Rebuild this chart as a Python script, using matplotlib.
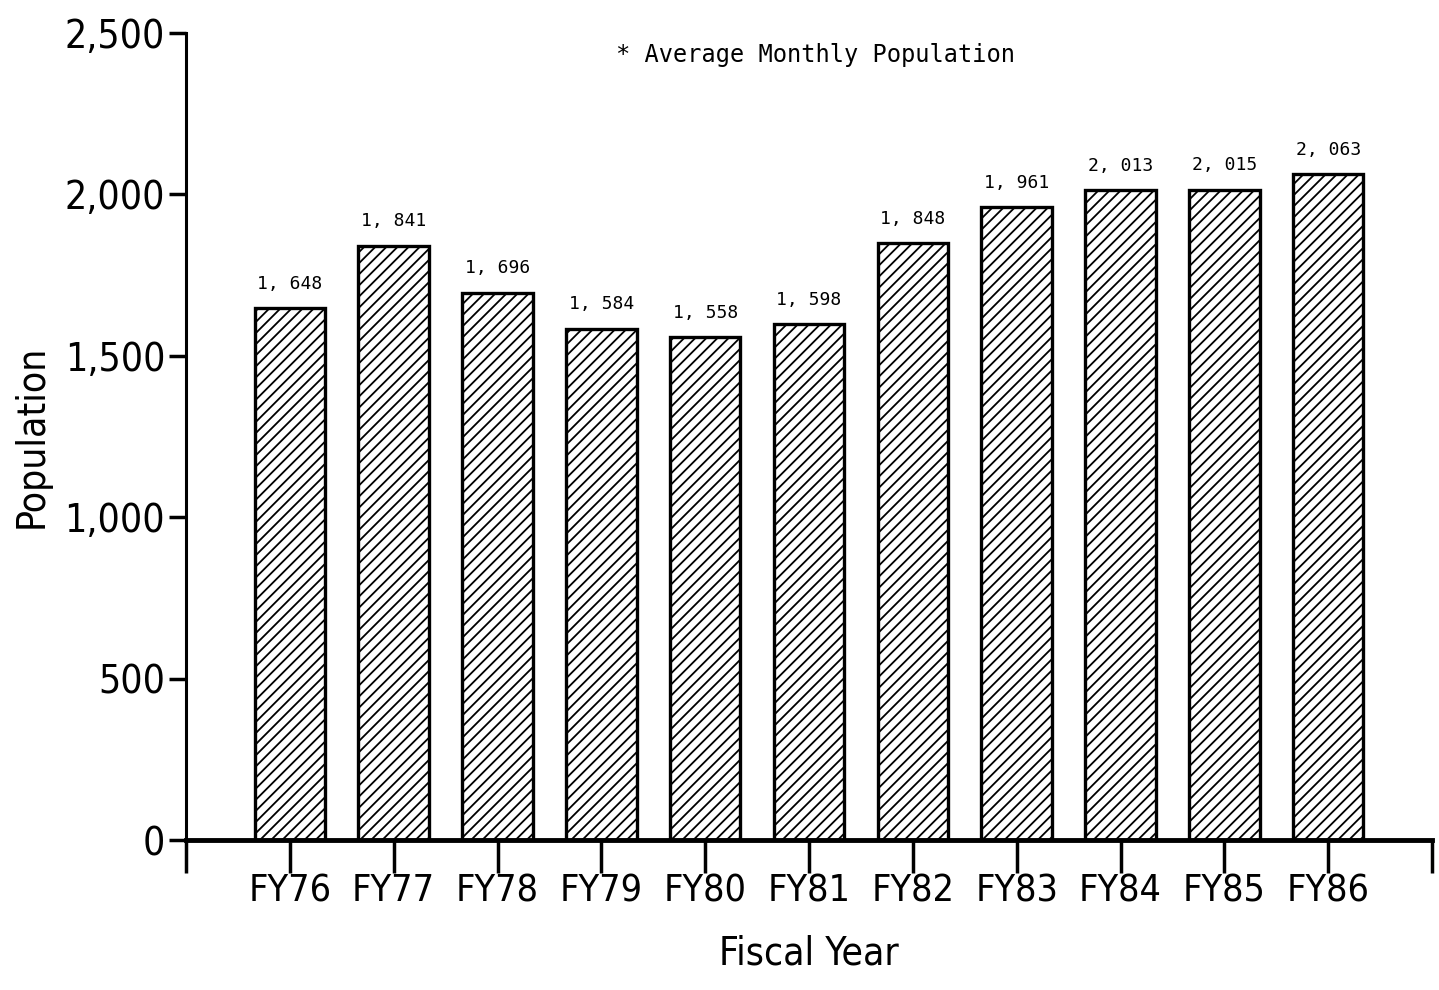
import matplotlib
matplotlib.use("Agg")
import matplotlib.pyplot as plt
from matplotlib import font_manager

years = ["FY76", "FY77", "FY78", "FY79", "FY80", "FY81", "FY82", "FY83", "FY84", "FY85", "FY86"]
population = [1648, 1841, 1696, 1584, 1558, 1598, 1848, 1961, 2013, 2015, 2063]
value_labels = ["1, 648", "1, 841", "1, 696", "1, 584", "1, 558", "1, 598",
                "1, 848", "1, 961", "2, 013", "2, 015", "2, 063"]
yticks = [0, 500, 1000, 1500, 2000, 2500]
ytick_labels = ["0", "500", "1,000", "1,500", "2,000", "2,500"]

stretches = {(f.name, f.stretch) for f in font_manager.fontManager.ttflist}
names = {n for n, s in stretches}
if any(n == "DejaVu Sans" and s == "condensed" for n, s in stretches):
    narrow = dict(family="DejaVu Sans", stretch="condensed")
elif "Liberation Sans Narrow" in names:
    narrow = dict(family="Liberation Sans Narrow")
else:
    narrow = dict(family="DejaVu Sans")

plt.rcParams["hatch.linewidth"] = 1.3

W, H, DPI = 1439, 990, 100
fig = plt.figure(figsize=(W / DPI, H / DPI), dpi=DPI)
ax = fig.add_axes([186 / W, 1 - 840 / H, (1432 - 186) / W, (840 - 33) / H])

x = list(range(len(years)))
ax.bar(x, population, width=0.68, color="white", edgecolor="black",
       linewidth=2.4, hatch="///", zorder=2)

for xi, v, lab in zip(x, population, value_labels):
    ax.annotate(lab, (xi, v), xytext=(0, 11), textcoords="offset points",
                ha="center", va="bottom", fontsize=13, family="DejaVu Sans Mono")

ax.set_xlim(-1, 11)
ax.set_ylim(0, 2500)
ax.set_xticks([-1] + x + [11])
ax.set_xticklabels([""] + years + [""], fontsize=27, **narrow)
ax.set_yticks(yticks)
ax.set_yticklabels(ytick_labels, fontsize=28, **narrow)
ax.tick_params(axis="x", direction="out", length=24, width=2.5, pad=0)
ax.tick_params(axis="y", direction="out", length=12, width=2.5, pad=3)

for s in ["top", "right"]:
    ax.spines[s].set_visible(False)
ax.spines["left"].set_linewidth(2.2)
ax.spines["bottom"].set_linewidth(3.5)

ax.set_xlabel("Fiscal Year", fontsize=28, labelpad=18, **narrow)
ax.set_ylabel("Population", fontsize=28, labelpad=10, **narrow)

fig.text(815 / W, 1 - 55 / H, "* Average Monthly Population", ha="center", va="center",
         fontsize=17, family="DejaVu Sans Mono")

fig.savefig("out.png", dpi=DPI)
